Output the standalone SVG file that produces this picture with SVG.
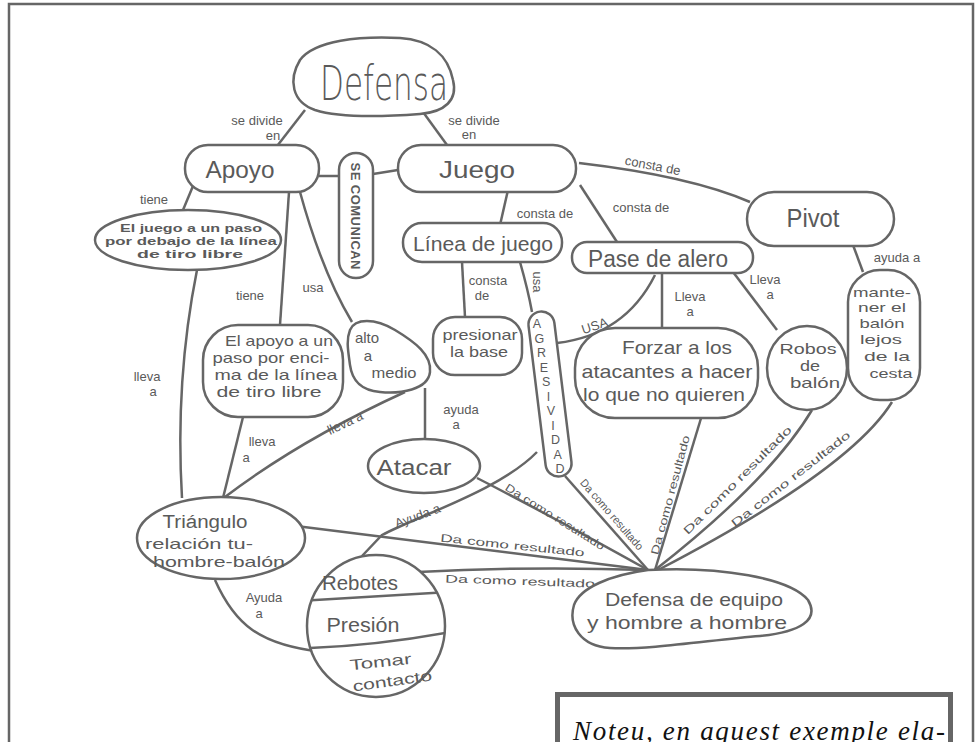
<svg xmlns="http://www.w3.org/2000/svg" width="976" height="742" viewBox="0 0 976 742">
<style>
.n{fill:#fff;stroke:#666;stroke-width:2.5}
.e{fill:none;stroke:#666;stroke-width:2.5}
.t{font-family:"Liberation Sans Narrow","Liberation Sans",sans-serif;fill:#5a5a5a;text-anchor:middle}
.b{font-weight:bold}
.l{font-size:13px}
.r{font-size:11px}
</style>
<rect width="976" height="742" fill="#fff"/>
<path d="M9,742 V4 H973 V742" fill="none" stroke="#666" stroke-width="2.5"/>

<g id="connectors">
<path class="e" d="M305,110 L274,150"/>
<path class="e" d="M423,112 L447,145"/>
<path class="e" d="M319,176 L339,176"/>
<path class="e" d="M373,174 L398,170"/>
<path class="e" d="M579,163 Q690,176 750,202"/>
<path class="e" d="M508,190 L500,225"/>
<path class="e" d="M580,185 L617,242"/>
<path class="e" d="M193,186 L183,210"/>
<path class="e" d="M289,192 L280,325"/>
<path class="e" d="M300,192 Q322,272 352,322"/>
<path class="e" d="M197,270 Q175,380 182,498"/>
<path class="e" d="M243,417 L223,498"/>
<path class="e" d="M405,392 Q300,440 225,497"/>
<path class="e" d="M425,388 L425,440"/>
<path class="e" d="M462,262 L465,317"/>
<path class="e" d="M520,262 Q528,290 532,312"/>
<path class="e" d="M655,275 Q625,335 557,343"/>
<path class="e" d="M662,273 L662,328"/>
<path class="e" d="M733,272 L777,330"/>
<path class="e" d="M853,245 L863,272"/>
<path class="e" d="M288,525 Q470,548 648,570"/>
<path class="e" d="M418,572 Q530,566 648,570"/>
<path class="e" d="M477,478 Q540,510 648,570"/>
<path class="e" d="M565,476 L648,570"/>
<path class="e" d="M537,452 C500,490 420,515 382,535 L362,556"/>
<path class="e" d="M702,415 L655,570"/>
<path class="e" d="M812,410 Q770,480 655,570"/>
<path class="e" d="M892,402 Q850,470 658,570"/>
<path class="e" d="M215,580 C235,625 260,645 322,652"/>
</g>

<g id="edge-labels">
<text class="t l" x="257" y="125">se divide</text>
<text class="t l" x="273" y="140">en</text>
<text class="t l" x="474" y="125">se divide</text>
<text class="t l" x="469" y="139">en</text>
<text class="t l" transform="translate(652,170) rotate(11)">consta de</text>
<text class="t l" x="545" y="218">consta de</text>
<text class="t l" x="641" y="212">consta de</text>
<text class="t l" x="154" y="204">tiene</text>
<text class="t l" x="250" y="300">tiene</text>
<text class="t l" x="313" y="292">usa</text>
<text class="t l" x="147" y="381">lleva</text>
<text class="t l" x="153" y="396">a</text>
<text class="t l" x="262" y="446">lleva</text>
<text class="t l" x="246" y="462">a</text>
<text class="t l" transform="translate(347,427) rotate(-25)">lleva a</text>
<text class="t l" x="461" y="414">ayuda</text>
<text class="t l" x="456" y="429">a</text>
<text class="t l" x="488" y="285">consta</text>
<text class="t l" x="482" y="300">de</text>
<text class="t l" transform="translate(533,282) rotate(90)">usa</text>
<text class="t l" transform="translate(596,330) rotate(-18)">USA</text>
<text class="t l" x="690" y="301">Lleva</text>
<text class="t l" x="690" y="316">a</text>
<text class="t l" x="765" y="284">Lleva</text>
<text class="t l" x="770" y="299">a</text>
<text class="t l" x="897" y="262">ayuda a</text>
<text class="t l" transform="translate(419,520) rotate(-20)">Ayuda a</text>
<text class="t l" x="264" y="602">Ayuda</text>
<text class="t l" x="259" y="618">a</text>
<text class="t r" transform="translate(512,549) rotate(6)" textLength="145" lengthAdjust="spacingAndGlyphs">Da como resultado</text>
<text class="t r" transform="translate(520,585) rotate(2)" textLength="150" lengthAdjust="spacingAndGlyphs">Da como resultado</text>
<text class="t r" transform="translate(553,520) rotate(32)" textLength="115" lengthAdjust="spacingAndGlyphs">Da como resultado</text>
<text class="t r" transform="translate(609,517) rotate(49)" textLength="90" lengthAdjust="spacingAndGlyphs">Da como resultado</text>
<text class="t r" transform="translate(674,496) rotate(-75)" textLength="123" lengthAdjust="spacingAndGlyphs">Da como resultado</text>
<text class="t r" transform="translate(740,483) rotate(-45)" textLength="148" lengthAdjust="spacingAndGlyphs">Da como resultado</text>
<text class="t r" transform="translate(793,482) rotate(-38)" textLength="148" lengthAdjust="spacingAndGlyphs">Da como resultado</text>
</g>

<g id="defensa">
<path class="n" d="M300,60 C315,40 360,36 400,38 C430,40 448,55 453,80 C458,100 445,112 420,114 C380,117 340,118 315,110 C292,102 288,80 300,60 Z"/>
<text x="384" y="100" font-family="'DejaVu Sans','Liberation Sans',sans-serif" font-weight="200" fill="#5a5a5a" text-anchor="middle" font-size="48" textLength="128" lengthAdjust="spacingAndGlyphs">Defensa</text>
</g>
<g id="apoyo">
<rect class="n" x="185" y="145" width="134" height="47" rx="23"/>
<text class="t" x="240" y="178" font-size="24" textLength="69" lengthAdjust="spacingAndGlyphs">Apoyo</text>
</g>
<g id="se-comunican">
<rect class="n" x="339" y="153" width="34" height="125" rx="17"/>
<text class="t b" transform="translate(351,216) rotate(90)" font-size="13" textLength="107" lengthAdjust="spacing">SE COMUNICAN</text>
</g>
<g id="juego">
<rect class="n" x="398" y="145" width="178" height="47" rx="23"/>
<text class="t" x="477" y="178" font-size="24" textLength="76" lengthAdjust="spacingAndGlyphs">Juego</text>
</g>
<g id="pivot">
<rect class="n" x="747" y="192" width="147" height="54" rx="27"/>
<text class="t" x="813" y="227" font-size="26" textLength="53" lengthAdjust="spacingAndGlyphs">Pivot</text>
</g>
<g id="linea-de-juego">
<rect class="n" x="403" y="223" width="159" height="39" rx="19"/>
<text class="t" x="483" y="251" font-size="20" textLength="140" lengthAdjust="spacingAndGlyphs">Línea de juego</text>
</g>
<g id="pase-de-alero">
<rect class="n" x="572" y="242" width="181" height="31" rx="15"/>
<text class="t" x="658" y="267" font-size="23" textLength="140" lengthAdjust="spacingAndGlyphs">Pase de alero</text>
</g>
<g id="juego-debajo">
<ellipse class="n" cx="188" cy="240" rx="93" ry="30"/>
<text class="t b" x="191" y="232" font-size="11" textLength="142" lengthAdjust="spacingAndGlyphs">El juego a un paso</text>
<text class="t b" x="191" y="245" font-size="11" textLength="172" lengthAdjust="spacingAndGlyphs">por debajo de la línea</text>
<text class="t b" x="190" y="258" font-size="11" textLength="106" lengthAdjust="spacingAndGlyphs">de tiro libre</text>
</g>
<g id="apoyo-encima">
<rect class="n" x="203" y="325" width="140" height="92" rx="35"/>
<text class="t" x="279" y="346" font-size="14.5" textLength="108" lengthAdjust="spacingAndGlyphs">El apoyo a un</text>
<text class="t" x="271" y="363" font-size="14.5" textLength="117" lengthAdjust="spacingAndGlyphs">paso por enci-</text>
<text class="t" x="276" y="380" font-size="14.5" textLength="123" lengthAdjust="spacingAndGlyphs">ma de la línea</text>
<text class="t" x="269" y="397" font-size="14.5" textLength="105" lengthAdjust="spacingAndGlyphs">de tiro libre</text>
</g>
<g id="alto-a-medio">
<path class="n" d="M350,330 C355,318 375,318 395,330 C415,342 432,355 430,372 C428,390 400,394 380,392 C360,390 352,380 350,365 C348,350 346,340 350,330 Z"/>
<text class="t" x="367" y="343" font-size="15">alto</text>
<text class="t" x="368" y="361" font-size="15">a</text>
<text class="t" x="394" y="378" font-size="15" textLength="45" lengthAdjust="spacingAndGlyphs">medio</text>
</g>
<g id="presionar">
<rect class="n" x="433" y="317" width="89" height="58" rx="22"/>
<text class="t" x="480" y="340" font-size="15" textLength="75" lengthAdjust="spacingAndGlyphs">presionar</text>
<text class="t" x="479" y="357" font-size="15" textLength="58" lengthAdjust="spacingAndGlyphs">la base</text>
</g>
<g id="agresividad">
<rect class="n" x="-13" y="-83" width="26" height="166" rx="13" transform="translate(550,394) rotate(-7)"/>
<g class="t" font-size="12.5">
<text x="537" y="328">A</text><text x="539.3" y="342.5">G</text><text x="541.6" y="357">R</text><text x="543.9" y="371.5">E</text><text x="546.2" y="386">S</text><text x="548.5" y="400.5">I</text><text x="550.8" y="415">V</text><text x="553.1" y="429.5">I</text><text x="555.4" y="444">D</text><text x="557.7" y="458.5">A</text><text x="560" y="473">D</text>
</g>
</g>
<g id="forzar">
<rect class="n" x="575" y="328" width="183" height="90" rx="40"/>
<text class="t" x="677" y="354" font-size="19" textLength="110" lengthAdjust="spacingAndGlyphs">Forzar a los</text>
<text class="t" x="667" y="378" font-size="19" textLength="171" lengthAdjust="spacingAndGlyphs">atacantes a hacer</text>
<text class="t" x="664" y="401" font-size="19" textLength="162" lengthAdjust="spacingAndGlyphs">lo que no quieren</text>
</g>
<g id="robos">
<ellipse class="n" cx="807" cy="368" rx="40" ry="42"/>
<text class="t" x="808" y="354" font-size="14.5" textLength="57" lengthAdjust="spacingAndGlyphs">Robos</text>
<text class="t" x="810" y="371" font-size="14.5" textLength="20" lengthAdjust="spacingAndGlyphs">de</text>
<text class="t" x="815" y="388" font-size="14.5" textLength="50" lengthAdjust="spacingAndGlyphs">balón</text>
</g>
<g id="mantener">
<rect class="n" x="848" y="270" width="72" height="130" rx="32"/>
<text class="t" x="882" y="297" font-size="13" textLength="58" lengthAdjust="spacingAndGlyphs">mante-</text>
<text class="t" x="882" y="312" font-size="13" textLength="48" lengthAdjust="spacingAndGlyphs">ner el</text>
<text class="t" x="882" y="328" font-size="13" textLength="45" lengthAdjust="spacingAndGlyphs">balón</text>
<text class="t" x="881" y="344" font-size="13" textLength="42" lengthAdjust="spacingAndGlyphs">lejos</text>
<text class="t" x="887" y="361" font-size="13" textLength="46" lengthAdjust="spacingAndGlyphs">de la</text>
<text class="t" x="891" y="378" font-size="13" textLength="43" lengthAdjust="spacingAndGlyphs">cesta</text>
</g>
<g id="atacar">
<ellipse class="n" cx="424" cy="466" rx="56" ry="27"/>
<text class="t" x="414" y="475" font-size="22" textLength="75" lengthAdjust="spacingAndGlyphs">Atacar</text>
</g>
<g id="triangulo">
<ellipse class="n" cx="221" cy="538" rx="84" ry="41"/>
<text class="t" x="205" y="528" font-size="18" textLength="85" lengthAdjust="spacingAndGlyphs">Triángulo</text>
<text class="t" x="199" y="549" font-size="14.5" textLength="108" lengthAdjust="spacingAndGlyphs">relación tu-</text>
<text class="t" x="219" y="567" font-size="14.5" textLength="132" lengthAdjust="spacingAndGlyphs">hombre-balón</text>
</g>
<g id="rebotes">
<clipPath id="rc"><ellipse cx="376" cy="626" rx="69" ry="71"/></clipPath>
<ellipse class="n" cx="376" cy="626" rx="69" ry="71"/>
<g clip-path="url(#rc)">
<path class="e" d="M300,601 L450,592"/>
<path class="e" d="M310,648 Q380,645 450,632"/>
</g>
<text class="t" x="360" y="590" font-size="20" textLength="76" lengthAdjust="spacingAndGlyphs">Rebotes</text>
<text class="t" x="363" y="632" font-size="20" textLength="73" lengthAdjust="spacingAndGlyphs">Presión</text>
<text class="t" transform="translate(381,667) rotate(-6)" font-size="15" textLength="62" lengthAdjust="spacingAndGlyphs">Tomar</text>
<text class="t" transform="translate(393,686) rotate(-8)" font-size="15" textLength="80" lengthAdjust="spacingAndGlyphs">contacto</text>
</g>
<g id="defensa-equipo">
<path class="n" d="M648,570 C720,566 790,578 808,600 C820,620 800,632 760,636 C710,640 650,650 610,648 C580,646 568,625 574,605 C580,588 610,575 648,570 Z"/>
<text class="t" x="694" y="606" font-size="19" textLength="178" lengthAdjust="spacingAndGlyphs">Defensa de equipo</text>
<text class="t" x="687" y="629" font-size="19" textLength="200" lengthAdjust="spacingAndGlyphs">y hombre a hombre</text>
</g>

<g id="note">
<rect x="557.5" y="694.5" width="393" height="70" fill="#fff" stroke="#666" stroke-width="5"/>
<text x="573" y="740" font-family="'Liberation Serif',serif" font-style="italic" font-size="27" fill="#111" textLength="372" lengthAdjust="spacing">Noteu, en aquest exemple ela-</text>
</g>
</svg>
